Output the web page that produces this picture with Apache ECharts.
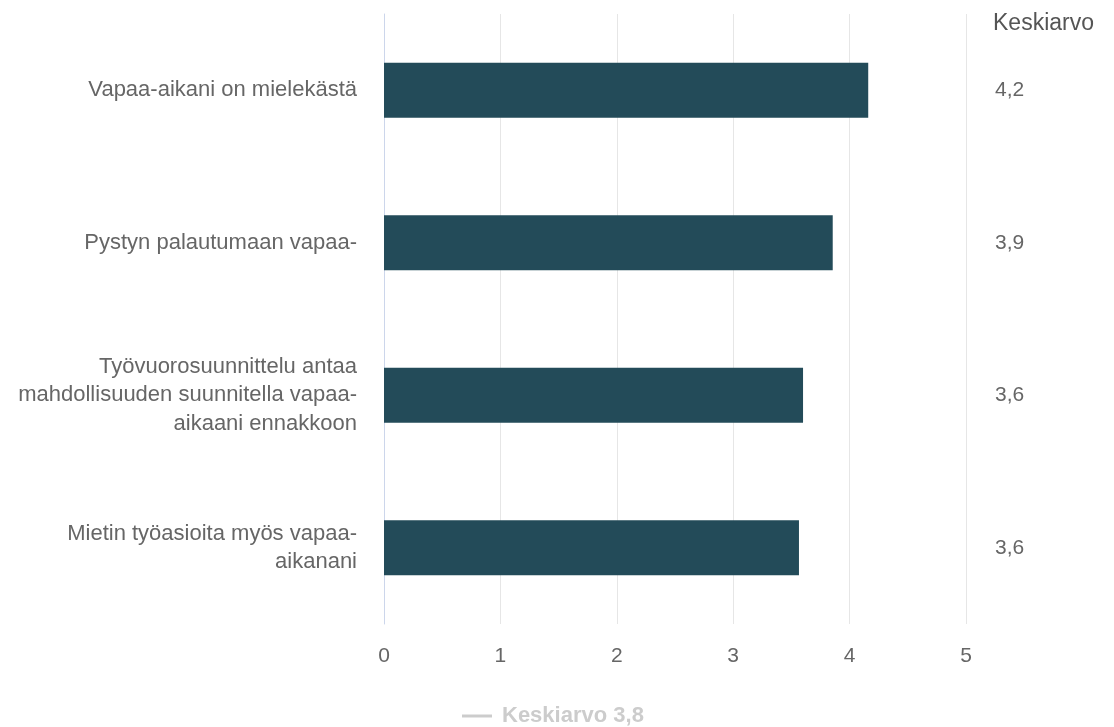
<!DOCTYPE html>
<html>
<head>
<meta charset="utf-8">
<script src="https://cdn.jsdelivr.net/npm/echarts@6/dist/echarts.min.js"></script>
<style>
  html, body { margin: 0; padding: 0; background: #fff; }
  #chart { width: 1114px; height: 727px; }
</style>
</head>
<body>
<div id="chart"></div>
<script>
// Väittämät (rivit ylhäältä alas)
const categories = [
  'Vapaa-aikani on mielekästä',
  'Pystyn palautumaan vapaa-',
  'Työvuorosuunnittelu antaa\nmahdollisuuden suunnitella vapaa-\naikaani ennakkoon',
  'Mietin työasioita myös vapaa-\naikanani'
];
// Keskiarvot asteikolla 0–5
const values = [4.16, 3.855, 3.60, 3.565];
const xTicks = [0, 1, 2, 3, 4, 5];
const columnTitle = 'Keskiarvo';

const fmt = v => v.toFixed(1).replace('.', ',');
const avg = values.reduce((a, b) => a + b, 0) / values.length;
const avgName = columnTitle + ' ' + fmt(avg);

const FONT = '"Liberation Sans", Arial, Helvetica, sans-serif';
const chart = echarts.init(document.getElementById('chart'), null, { renderer: 'canvas' });

chart.setOption({
  animation: false,
  textStyle: { fontFamily: FONT },
  title: {
    text: columnTitle,
    left: 993,
    top: 12,
    padding: 0,
    textStyle: { fontFamily: FONT, fontSize: 23, fontWeight: 'normal', color: '#555' }
  },
  grid: { left: 384, right: 148, top: 14, bottom: 103, containLabel: false },
  legend: {
    top: 705,
    left: 462,
    padding: 0,
    icon: 'rect',
    itemWidth: 30,
    itemHeight: 3,
    inactiveColor: '#cccccc',
    selected: { [avgName]: false },
    textStyle: { fontFamily: FONT, fontSize: 22, fontWeight: 'bold', color: '#333', padding: [0, 0, 0, 5] },
    data: [avgName]
  },
  xAxis: {
    type: 'value',
    min: xTicks[0],
    max: xTicks[xTicks.length - 1],
    interval: 1,
    axisLine: { show: false },
    axisTick: { show: false },
    splitLine: { lineStyle: { color: '#e6e6e6', width: 1 } },
    axisLabel: { color: '#666', fontSize: 21, margin: 22, fontFamily: FONT }
  },
  yAxis: [
    {
      type: 'category',
      data: categories,
      inverse: true,
      axisLine: { show: true, lineStyle: { color: '#ccd6eb', width: 1 } },
      axisTick: { show: false },
      axisLabel: {
        color: '#666', fontSize: 22, margin: 27, lineHeight: 28.5,
        align: 'right', fontFamily: FONT
      }
    },
    {
      type: 'category',
      data: values.map(fmt),
      inverse: true,
      position: 'right',
      axisLine: { show: false },
      axisTick: { show: false },
      axisLabel: {
        color: '#666', fontSize: 21, margin: 29, align: 'left', fontFamily: FONT,
        padding: [4, 0, 0, 0]
      }
    }
  ],
  series: [
    {
      type: 'bar',
      name: 'Keskiarvot',
      data: values,
      barWidth: '36%',
      itemStyle: { color: '#234b59' },
      silent: true
    },
    {
      type: 'line',
      name: avgName,
      data: [],
      itemStyle: { color: '#aaaaaa' },
      lineStyle: { color: '#aaaaaa' },
      markLine: {
        symbol: 'none',
        label: { show: false },
        lineStyle: { color: '#aaaaaa', type: 'solid', width: 2 },
        data: [{ xAxis: avg }]
      }
    }
  ]
});
</script>
</body>
</html>
